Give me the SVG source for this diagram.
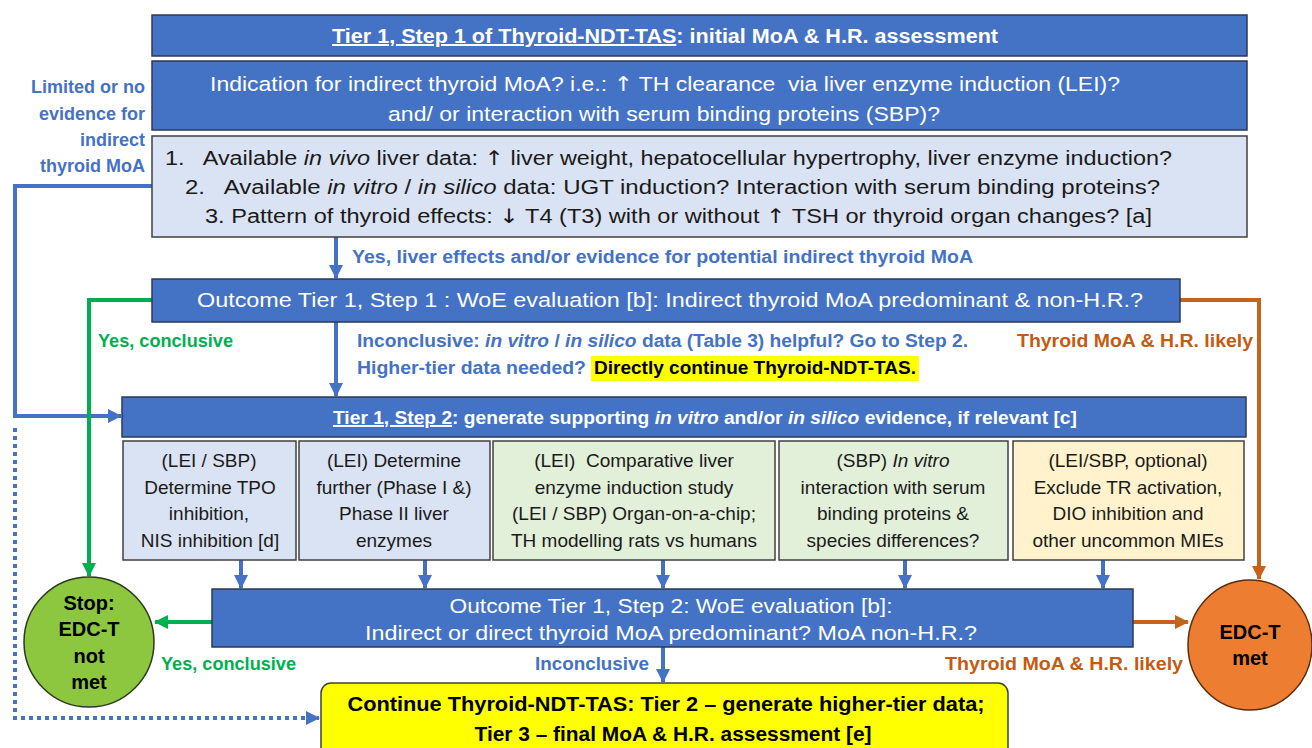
<svg xmlns="http://www.w3.org/2000/svg" width="1312" height="748" viewBox="0 0 1312 748">
<style>
text{font-family:"Liberation Sans",Arial,sans-serif}
.dk{fill:#4472c4;stroke:#2b3a57;stroke-width:1.5}
.lb{fill:#dae3f3;stroke:#404040;stroke-width:1.5}
.lg{fill:#e2efd9;stroke:#404040;stroke-width:1.5}
.ly{fill:#fff2cc;stroke:#404040;stroke-width:1.5}
.wt{fill:#ffffff;font-size:20.5px}
.wb{fill:#ffffff;font-size:20px;font-weight:bold}
.bk{fill:#1a1a1a;font-size:20px}
.sb{fill:#1a1a1a;font-size:19px;text-anchor:middle}
.lbl{font-size:17.5px;font-weight:bold}
.blue{fill:#4472c4}
.green{fill:#00b050}
.orange{fill:#c55a11}
.cb{fill:#000000;font-size:20px;font-weight:bold;text-anchor:middle}
.c{stroke-width:4;fill:none}
.cbl{stroke:#4472c4}
.cgr{stroke:#00b050}
.cor{stroke:#c8611a}
.it{font-style:italic}
.ul{text-decoration:underline}
.ar{font-family:"DejaVu Sans",sans-serif}
.pre{white-space:pre}
</style>
<defs>
<marker id="ab" markerUnits="userSpaceOnUse" markerWidth="14" markerHeight="14" refX="13" refY="7" orient="auto"><path d="M0,0 L14,7 L0,14 z" fill="#4472c4"/></marker>
<marker id="ag" markerUnits="userSpaceOnUse" markerWidth="14" markerHeight="14" refX="13" refY="7" orient="auto"><path d="M0,0 L14,7 L0,14 z" fill="#00b050"/></marker>
<marker id="ao" markerUnits="userSpaceOnUse" markerWidth="14" markerHeight="14" refX="13" refY="7" orient="auto"><path d="M0,0 L14,7 L0,14 z" fill="#c8611a"/></marker>
</defs>
<rect width="1312" height="748" fill="#ffffff"/>

<g id="connectors">
<path class="c cbl" d="M152,186 H15 V416 H121" marker-end="url(#ab)"/>
<path class="c cbl" d="M15,428 V718 H319" stroke-dasharray="4 4" marker-end="url(#ab)"/>
<path class="c cbl" d="M336,237 V278" marker-end="url(#ab)"/>
<path class="c cbl" d="M336,322 V396" marker-end="url(#ab)"/>
<path class="c cgr" d="M152,300 H89 V576" marker-end="url(#ag)"/>
<path class="c cor" d="M1180,300 H1259 V579" marker-end="url(#ao)"/>
<path class="c cbl" d="M241,560 V588" marker-end="url(#ab)"/>
<path class="c cbl" d="M425,560 V588" marker-end="url(#ab)"/>
<path class="c cbl" d="M663,560 V588" marker-end="url(#ab)"/>
<path class="c cbl" d="M905,560 V588" marker-end="url(#ab)"/>
<path class="c cbl" d="M1103,560 V588" marker-end="url(#ab)"/>
<path class="c cgr" d="M212,622 H155" marker-end="url(#ag)"/>
<path class="c cor" d="M1133,622 H1188" marker-end="url(#ao)"/>
<path class="c cbl" d="M663,647 V682" marker-end="url(#ab)"/>
</g>

<g id="labels">
<text class="lbl blue" text-anchor="end" style="font-size:18px"><tspan x="145" y="93">Limited or no</tspan><tspan x="145" y="120">evidence for</tspan><tspan x="145" y="146">indirect</tspan><tspan x="145" y="172">thyroid MoA</tspan></text>
<text class="lbl blue" x="352" y="263" textLength="621" lengthAdjust="spacingAndGlyphs">Yes, liver effects and/or evidence for potential indirect thyroid MoA</text>
<text class="lbl green" x="98" y="347" textLength="135" lengthAdjust="spacingAndGlyphs">Yes, conclusive</text>
<text class="lbl orange" x="1017" y="347" textLength="236" lengthAdjust="spacingAndGlyphs">Thyroid MoA &amp; H.R. likely</text>
<text class="lbl blue" x="357" y="347" textLength="611" lengthAdjust="spacingAndGlyphs">Inconclusive: <tspan class="it">in vitro</tspan> / <tspan class="it">in silico</tspan> data (Table 3) helpful? Go to Step 2.</text>
<text class="lbl blue" x="357" y="374" textLength="229" lengthAdjust="spacingAndGlyphs">Higher-tier data needed?</text>
<rect x="591" y="356" width="328" height="25" fill="#ffff00"/>
<text class="lbl" fill="#000000" x="594" y="374" textLength="322" lengthAdjust="spacingAndGlyphs">Directly continue Thyroid-NDT-TAS.</text>
<text class="lbl green" x="161" y="670" textLength="135" lengthAdjust="spacingAndGlyphs">Yes, conclusive</text>
<text class="lbl blue" x="535" y="670" textLength="114" lengthAdjust="spacingAndGlyphs">Inconclusive</text>
<text class="lbl orange" x="945" y="670" textLength="238" lengthAdjust="spacingAndGlyphs">Thyroid MoA &amp; H.R. likely</text>
</g>

<g id="title1">
<rect class="dk" x="152" y="15" width="1095" height="41"/>
<text class="wb" x="332" y="43" textLength="666" lengthAdjust="spacingAndGlyphs"><tspan class="ul">Tier 1, Step 1 of Thyroid-NDT-TAS</tspan>: initial MoA &amp; H.R. assessment</text>
</g>

<g id="indication">
<rect class="dk" x="152" y="61" width="1095" height="69"/>
<text class="wt pre" x="665" y="91" text-anchor="middle" textLength="910" lengthAdjust="spacingAndGlyphs">Indication for indirect thyroid MoA? i.e.: <tspan class="ar">↑</tspan> TH clearance  via liver enzyme induction (LEI)?</text>
<text class="wt" x="664" y="121" text-anchor="middle" textLength="552" lengthAdjust="spacingAndGlyphs">and/ or interaction with serum binding proteins (SBP)?</text>
</g>

<g id="data">
<rect class="lb" x="152" y="136" width="1095" height="101"/>
<text class="bk pre" x="165" y="165" textLength="1007" lengthAdjust="spacingAndGlyphs">1.   Available <tspan class="it">in vivo</tspan> liver data: <tspan class="ar">↑</tspan> liver weight, hepatocellular hypertrophy, liver enzyme induction?</text>
<text class="bk pre" x="185" y="194" textLength="975" lengthAdjust="spacingAndGlyphs">2.   Available <tspan class="it">in vitro</tspan> / <tspan class="it">in silico</tspan> data: UGT induction? Interaction with serum binding proteins?</text>
<text class="bk" x="205" y="223" textLength="947" lengthAdjust="spacingAndGlyphs">3. Pattern of thyroid effects: <tspan class="ar">↓</tspan> T4 (T3) with or without <tspan class="ar">↑</tspan> TSH or thyroid organ changes? [a]</text>
</g>

<g id="outcome1">
<rect class="dk" x="152" y="279" width="1028" height="43"/>
<text class="wt" x="670" y="307" text-anchor="middle" textLength="946" lengthAdjust="spacingAndGlyphs">Outcome Tier 1, Step 1 : WoE evaluation [b]: Indirect thyroid MoA predominant &amp; non-H.R.?</text>
</g>

<g id="step2">
<rect class="dk" x="122" y="397" width="1124" height="40"/>
<text class="wb" x="333" y="424" style="font-size:19.2px"><tspan class="ul">Tier 1, Step 2</tspan>: generate supporting <tspan class="it">in vitro</tspan> and/or <tspan class="it">in silico</tspan> evidence, if relevant [c]</text>
</g>

<g id="sub1">
<rect class="lb" x="123" y="441" width="173" height="119"/>
<text class="sb"><tspan x="209" y="467">(LEI / SBP)</tspan><tspan x="210" y="493.5">Determine TPO</tspan><tspan x="209" y="520">inhibition,</tspan><tspan x="210" y="546.5">NIS inhibition [d]</tspan></text>
</g>
<g id="sub2">
<rect class="lb" x="299" y="441" width="191" height="119"/>
<text class="sb"><tspan x="394" y="467">(LEI) Determine</tspan><tspan x="394" y="493.5">further (Phase I &amp;)</tspan><tspan x="394" y="520">Phase II liver</tspan><tspan x="394" y="546.5">enzymes</tspan></text>
</g>
<g id="sub3">
<rect class="lg" x="493" y="441" width="282" height="119"/>
<text class="sb pre"><tspan x="634" y="467">(LEI)  Comparative liver</tspan><tspan x="634" y="493.5">enzyme induction study</tspan><tspan x="634" y="520">(LEI / SBP) Organ-on-a-chip;</tspan><tspan x="634" y="546.5">TH modelling rats vs humans</tspan></text>
</g>
<g id="sub4">
<rect class="lg" x="779" y="441" width="229" height="119"/>
<text class="sb"><tspan x="893" y="467">(SBP) <tspan class="it">In vitro</tspan></tspan><tspan x="893" y="493.5">interaction with serum</tspan><tspan x="893" y="520">binding proteins &amp;</tspan><tspan x="893" y="546.5">species differences?</tspan></text>
</g>
<g id="sub5">
<rect class="ly" x="1013" y="441" width="231" height="119"/>
<text class="sb"><tspan x="1128" y="467">(LEI/SBP, optional)</tspan><tspan x="1128" y="493.5">Exclude TR activation,</tspan><tspan x="1128" y="520">DIO inhibition and</tspan><tspan x="1128" y="546.5">other uncommon MIEs</tspan></text>
</g>

<g id="outcome2">
<rect class="dk" x="212" y="589" width="921" height="58"/>
<text class="wt" x="671" y="613" text-anchor="middle" textLength="443" lengthAdjust="spacingAndGlyphs">Outcome Tier 1, Step 2: WoE evaluation [b]:</text>
<text class="wt" x="671" y="640" text-anchor="middle" textLength="612" lengthAdjust="spacingAndGlyphs">Indirect or direct thyroid MoA predominant? MoA non-H.R.?</text>
</g>

<g id="stop">
<ellipse cx="89" cy="642" rx="65" ry="65" fill="#8dc63f" stroke="#2b3a1f" stroke-width="1.5"/>
<text class="cb"><tspan x="89" y="610">Stop:</tspan><tspan x="89" y="636">EDC-T</tspan><tspan x="89" y="663">not</tspan><tspan x="89" y="689">met</tspan></text>
</g>

<g id="met">
<ellipse cx="1250" cy="645" rx="62" ry="65" fill="#ed7d31" stroke="#5a2d0c" stroke-width="1.5"/>
<text class="cb"><tspan x="1250" y="639">EDC-T</tspan><tspan x="1250" y="665">met</tspan></text>
</g>

<g id="continue">
<rect x="321" y="683" width="687" height="80" rx="10" ry="10" fill="#ffff00" stroke="#404040" stroke-width="1.5"/>
<text fill="#000000" font-size="19.5" font-weight="bold" x="666" y="711" text-anchor="middle" textLength="637" lengthAdjust="spacingAndGlyphs">Continue Thyroid-NDT-TAS: Tier 2 – generate higher-tier data;</text>
<text fill="#000000" font-size="19.5" font-weight="bold" x="673" y="741" text-anchor="middle" textLength="397" lengthAdjust="spacingAndGlyphs">Tier 3 – final MoA &amp; H.R. assessment [e]</text>
</g>
</svg>
